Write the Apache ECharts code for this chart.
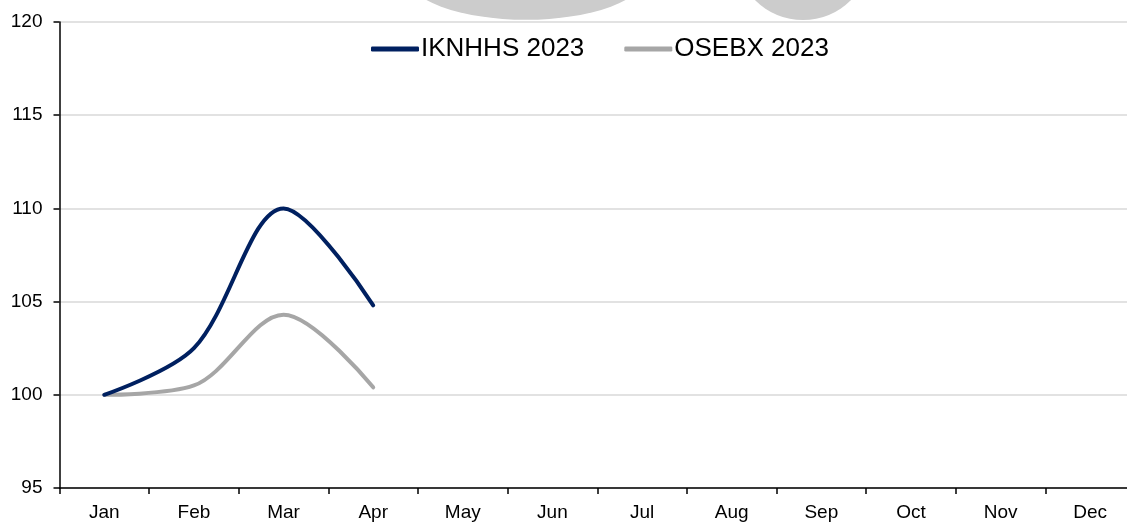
<!DOCTYPE html>
<html>
<head>
<meta charset="utf-8">
<script src="https://cdn.jsdelivr.net/npm/echarts@6/dist/echarts.min.js"></script>
<style>
html, body { margin: 0; padding: 0; background: #fff; overflow: hidden; }
#chart { width: 1135px; height: 522px; }
</style>
</head>
<body>
<div id="chart"></div>
<script>
var months = ['Jan', 'Feb', 'Mar', 'Apr', 'May', 'Jun', 'Jul', 'Aug', 'Sep', 'Oct', 'Nov', 'Dec'];
var iknhhs = [100, 102.5, 110, 104.8];
var osebx = [100, 100.5, 104.3, 100.4];
var yTicks = { min: 95, max: 120, step: 5 };

// chart is a bit wider than the window: the plot area runs past the right edge
var myChart = echarts.init(document.getElementById('chart'));
var option = {
    backgroundColor: '#fff',
    textStyle: { fontFamily: 'Liberation Sans, Arial, sans-serif' },
    // watermark shapes at the top
    graphic: [
        { type: 'circle', shape: { cx: 0, cy: 0, r: 120 }, x: 526, y: -25, scaleY: 0.373, style: { fill: '#cccccc' }, silent: true, z: -1 },
        { type: 'circle', shape: { cx: 803, cy: -47.5, r: 67.6 }, style: { fill: '#cccccc' }, silent: true, z: -1 }
    ],
    legend: {
        left: 366,
        top: 31,
        icon: 'roundRect',
        itemWidth: 48,
        itemHeight: 5,
        itemGap: 40,
        textStyle: { fontSize: 26, color: '#000', padding: [0, 0, 0, -3] },
        data: ['IKNHHS 2023', 'OSEBX 2023']
    },
    grid: {
        left: 59.5,
        right: 0,
        top: 22,
        bottom: 29
    },
    xAxis: {
        type: 'category',
        boundaryGap: true,
        data: months,
        axisLine: { lineStyle: { color: '#000', width: 1.5 } },
        axisTick: { show: true, length: 6, lineStyle: { color: '#000', width: 1.5 } },
        axisLabel: { color: '#000', fontSize: 19, margin: 15 },
        splitLine: { show: false }
    },
    yAxis: {
        type: 'value',
        min: yTicks.min,
        max: yTicks.max,
        interval: yTicks.step,
        axisLine: { show: true, lineStyle: { color: '#000', width: 1.5 } },
        axisTick: { show: true, length: 6, lineStyle: { color: '#000', width: 1.5 } },
        axisLabel: { color: '#000', fontSize: 19, margin: 17 },
        splitLine: { lineStyle: { color: '#d9d9d9', width: 1.5 } }
    },
    series: [
        {
            name: 'IKNHHS 2023',
            type: 'line',
            smooth: 0.33,
            symbol: 'none',
            lineStyle: { color: '#002060', width: 4, cap: 'round' },
            itemStyle: { color: '#002060' },
            data: iknhhs,
            z: 3
        },
        {
            name: 'OSEBX 2023',
            type: 'line',
            smooth: 0.33,
            symbol: 'none',
            lineStyle: { color: '#a6a6a6', width: 4, cap: 'round' },
            itemStyle: { color: '#a6a6a6' },
            data: osebx,
            z: 2
        }
    ]
};
myChart.setOption(option);
</script>
</body>
</html>
